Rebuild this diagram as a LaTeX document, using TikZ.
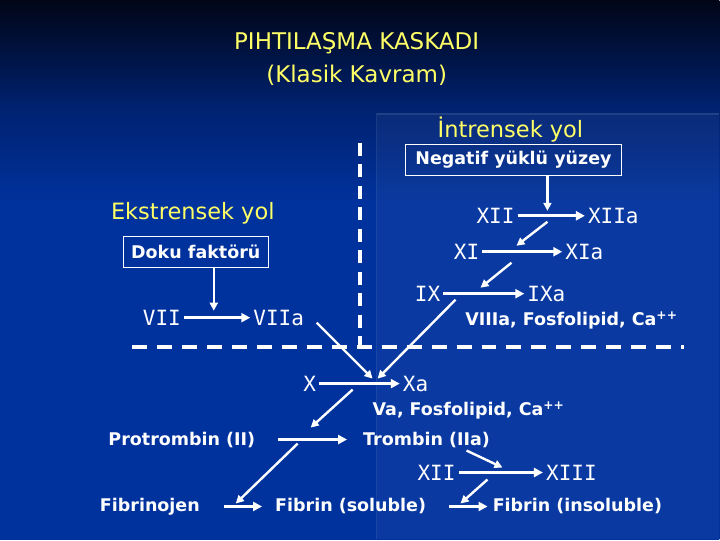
\documentclass[tikz,border=0pt]{standalone}
\usepackage{fontspec}
\setmainfont{DejaVu Sans}
\setmonofont{DejaVu Sans Mono}
\usetikzlibrary{arrows.meta}
\definecolor{slideTop}{RGB}{1,5,22}
\definecolor{slideMid}{RGB}{0,34,112}
\definecolor{slideLow}{RGB}{0,50,158}
\definecolor{titleYellow}{RGB}{255,255,102}
\pgfdeclareverticalshading{slidebg}{100bp}{color(0bp)=(slideLow); color(56bp)=(slideLow); color(65bp)=(slideMid); color(75bp)=(slideTop); color(100bp)=(slideTop)}

\begin{document}
\begin{tikzpicture}[
    x=1pt, y=-1pt,
    >={Triangle[length=9pt,width=9pt]},
    fac/.style={text=white, inner sep=3pt, font=\fontsize{21}{24}\selectfont\ttfamily},
    cof/.style={text=white, inner sep=2pt, font=\fontsize{17.5}{20}\selectfont\bfseries},
    pathname/.style={text=titleYellow, font=\fontsize{22.5}{26}\selectfont},
    trigger/.style={draw=white, line width=1pt, text=white, inner sep=0pt, minimum height=31pt, font=\fontsize{17.5}{20}\selectfont\bfseries},
    react/.style={->, draw=white, line width=3.2pt},
    act/.style={->, draw=white, line width=2.4pt, >={Triangle[length=8pt,width=8pt]}},
    split/.style={draw=white, line width=4pt, dash pattern=on 15pt off 10pt}
  ]
    \shade[shading=slidebg] (0,0) rectangle (720,540);
    \fill[white, opacity=0.04] (377,113) rectangle (720,540);
    \draw[white, opacity=0.1, line width=1.5pt] (377,540) -- (377,114) -- (720,114);

    \node[text=titleYellow, font=\fontsize{23}{27}\selectfont] (title1) at (357,43) {PIHTILAŞMA KASKADI};
    \node[text=titleYellow, font=\fontsize{23}{27}\selectfont] (title2) at (357,75) {(Klasik Kavram)};

    \node[pathname] (intr) at (511,130) {İntrensek yol};
    \node[trigger, minimum width=216pt] (neg) at (514,160) {Negatif yüklü yüzey};
    \node[pathname] (ekst) at (193,214) {Ekstrensek yol};
    \node[trigger, minimum width=145pt] (doku) at (196,252) {Doku faktörü};

    \node[fac] (XII) at (496,216) {XII};
    \node[fac] (XIIa) at (614,216) {XIIa};
    \node[fac] (XI) at (467,252) {XI};
    \node[fac] (XIa) at (585,252) {XIa};
    \node[fac] (IX) at (428,294) {IX};
    \node[fac] (IXa) at (547,294) {IXa};
    \node[cof] (cof8) at (572,321) {VIIIa, Fosfolipid, Ca\textsuperscript{++}};
    \node[fac] (VII) at (162,318) {VII};
    \node[fac] (VIIa) at (279,318) {VIIa};
    \node[fac] (X) at (310,384) {X};
    \node[fac] (Xa) at (416,384) {Xa};
    \node[cof] (cof5) at (469,411) {Va, Fosfolipid, Ca\textsuperscript{++}};
    \node[cof] (prot) at (182,440) {Protrombin (II)};
    \node[cof] (trom) at (427,440) {Trombin (IIa)};
    \node[fac] (XIIb) at (437,473) {XII};
    \node[fac] (XIII) at (572,473) {XIII};
    \node[cof] (fibg) at (150,507) {Fibrinojen};
    \node[cof] (fibs) at (351,507) {Fibrin (soluble)};
    \node[cof] (fibi) at (578,507) {Fibrin (insoluble)};

    \coordinate (m12) at (548,211);
    \coordinate (s12) at (548,222);
    \coordinate (m11) at (517,246);
    \coordinate (s11) at (512,263);
    \coordinate (m9) at (481,288);
    \coordinate (s9) at (456,300);
    \coordinate (m7) at (214,311);
    \coordinate (s7) at (317,323);
    \coordinate (mX1) at (373,379);
    \coordinate (mX2) at (378,379);
    \coordinate (sX) at (353,390);
    \coordinate (m2) at (311,428);
    \coordinate (s2) at (298,444);
    \coordinate (mf1) at (236,504);
    \coordinate (sT) at (467,451);
    \coordinate (m13) at (503,468);
    \coordinate (s13) at (488,480);
    \coordinate (mf2) at (461,504);
    \coordinate (hl) at (132,347);
    \coordinate (hr) at (685,347);
    \coordinate (vt) at (360,143);

    \draw[split] (hl) -- (hr);
    \draw[split, dash pattern=on 13pt off 8.5pt] (vt) -- (vt |- hl);

    \draw[react] (XII) -- (XIIa);
    \draw[react] (XI) -- (XIa);
    \draw[react] (IX) -- (IXa);
    \draw[react] (VII) -- (VIIa);
    \draw[react] (X) -- (Xa);
    \draw[react, shorten <=21pt, shorten >=14pt] (prot) -- (trom);
    \draw[react] (XIIb) -- (XIII);
    \draw[react, shorten <=22pt, shorten >=11pt] (fibg) -- (fibs);
    \draw[react, shorten <=21pt, shorten >=3pt] (fibs) -- (fibi);

    \draw[act] (neg.south -| m12) -- (m12);
    \draw[act] (s12) -- (m11);
    \draw[act] (s11) -- (m9);
    \draw[act] (doku.south -| m7) -- (m7);
    \draw[act] (s7) -- (mX1);
    \draw[act] (s9) -- (mX2);
    \draw[act] (sX) -- (m2);
    \draw[act] (s2) -- (mf1);
    \draw[act] (sT) -- (m13);
    \draw[act] (s13) -- (mf2);
  \end{tikzpicture}
\end{document}
